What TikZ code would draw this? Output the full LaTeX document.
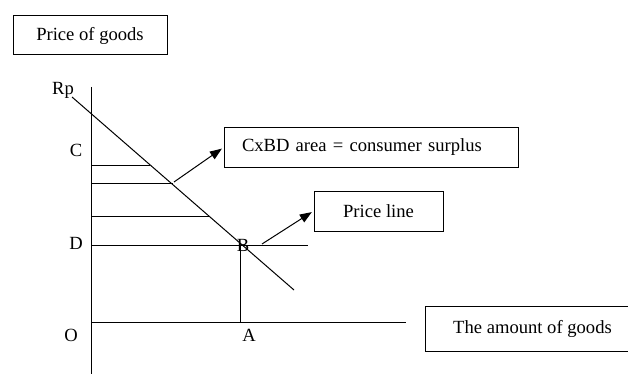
\documentclass[tikz,border=0pt]{standalone}
\usepackage{fontspec}
\setmainfont{Liberation Serif}
\usetikzlibrary{arrows.meta}
\begin{document}
\begin{tikzpicture}[x=1pt,y=-1pt,
  every node/.style={font=\fontsize{18.6}{22}\selectfont},
  box/.style={draw, line width=1pt, inner sep=0pt},
  thin line/.style={line width=0.9pt},
  callout/.style={line width=1pt, -{Triangle[length=12pt,width=9pt]}, shorten >=2pt}]
\useasboundingbox (0,0) rectangle (628,374);
% boxes
\node[box, minimum width=154pt, minimum height=39pt] (pg) at (90,35.5) {Price of goods};
\node[box, minimum width=294pt, minimum height=39pt, text width=258pt, inner xsep=18pt, align=left] (cx) at (371,147.5) {CxBD area = consumer surplus};
\node[box, minimum width=129pt, minimum height=40pt] (pl) at (378.5,211) {Price line};
\node[box, minimum width=215pt, minimum height=45pt] (am) at (532.5,328.5) {The amount of goods};
% axes
\coordinate (ytop) at (91,87);
\coordinate (ybot) at (91,374);
\coordinate (xl) at (91,322.7);
\coordinate (xr) at (406,322.7);
\draw[line width=1pt] (ytop) -- (ybot);
\draw[line width=1pt] (xl) -- (xr);
% demand line
\coordinate (d1) at (72,97);
\coordinate (d2) at (294,290);
\draw[line width=1pt] (d1) -- (d2);
% horizontal lines
\coordinate (h1a) at (91,165.7); \coordinate (h1b) at (150,165.7);
\coordinate (h2a) at (91,183.5); \coordinate (h2b) at (173,183.5);
\coordinate (h3a) at (91,216.7); \coordinate (h3b) at (209,216.7);
\coordinate (h4a) at (91,245); \coordinate (h4b) at (308,245);
\draw[thin line] (h1a) -- (h1b);
\draw[thin line] (h2a) -- (h2b);
\draw[thin line] (h3a) -- (h3b);
\draw[thin line] (h4a) -- (h4b);
% vertical to A
\coordinate (va) at (240,245);
\coordinate (vb) at (240,322.7);
\draw[line width=1pt] (va) -- (vb);
% labels
\node (rp) at (63,90) {Rp};
\node (lc) at (76,150) {C};
\node (ld) at (76,243) {D};
\node (lo) at (71,335) {O};
\node (la) at (249,335) {A};
\node (lb) at (243,245) {B};
% arrows
\coordinate (a1) at (174,182);
\coordinate (a2) at (262,244);
\draw[callout] (a1) -- (cx.west);
\draw[callout] (a2) -- (pl.west);
\end{tikzpicture}
\end{document}
